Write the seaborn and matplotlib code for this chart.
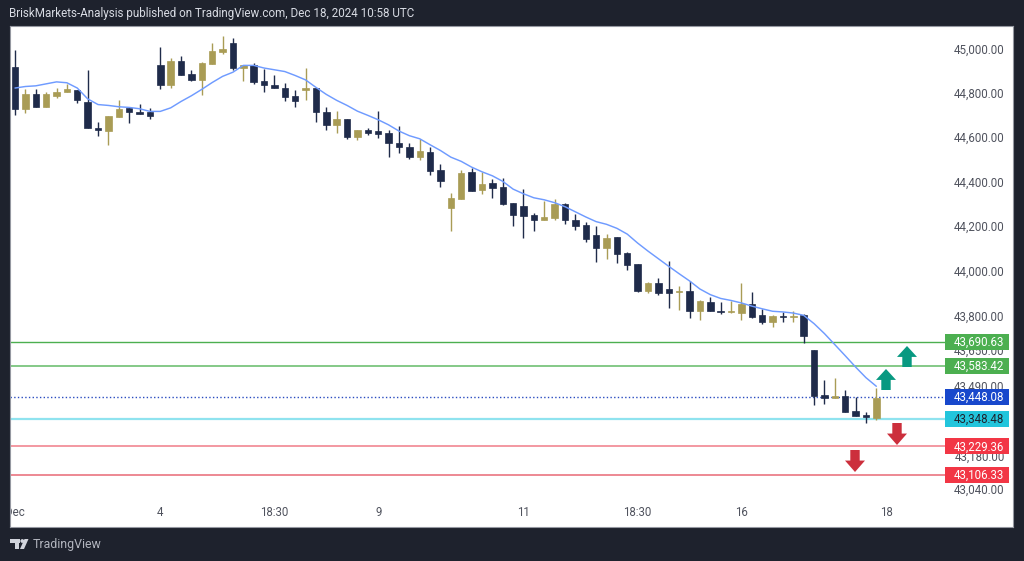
import matplotlib
matplotlib.use('Agg')
import matplotlib.pyplot as plt
from matplotlib.patches import Rectangle, Polygon, Circle
from matplotlib.ticker import NullLocator
from matplotlib.transforms import IdentityTransform, ScaledTranslation
import numpy as np
import pandas as pd
import seaborn as sns

highs = [45000,44823,44823,44813,44827,44848,44818,44909,44677,44700,44773,44741,44756,44738,45017,44967,44973,44909,44948,45033,45068,45056,44936,44941,44916,44889,44853,44818,
         44918,44827,44744,44726,44687,44638,44646,44726,44637,44655,44581,44599,44564,44483,44353,44459,44468,44449,44416,44423,44311,44371,44263,44320,44327,44311,44261,44223,
         44205,44172,44158,44091,44038,43958,43975,44050,43937,43961,43874,43888,43867,43872,43952,43912,43837,43811,43821,43829,43814,43656,43520,43529,43479,43445,43379,43487]
body_tops = [44924,44804,44804,44800,44813,44823,44818,44764,44650,44700,44736,44739,44721,44718,44936,44954,44954,44892,44941,44998,45008,45033,44936,44936,44862,44844,44830,44791,
             44827,44827,44720,44687,44687,44637,44638,44634,44623,44581,44563,44545,44540,44458,44332,44446,44449,44393,44398,44380,44311,44297,44257,44245,44306,44305,44235,44209,
             44166,44154,44158,44084,44038,43950,43950,43925,43917,43916,43870,43867,43829,43826,43860,43860,43808,43803,43805,43806,43808,43656,43457,43451,43453,43384,43368,43444]
body_bottoms = [44735,44735,44744,44744,44795,44809,44776,44647,44638,44634,44696,44718,44712,44700,44845,44841,44889,44866,44866,44938,44995,44920,44920,44857,44841,44827,44788,44770,
                44820,44718,44661,44661,44608,44608,44623,44620,44578,44564,44515,44516,44455,44408,44285,44329,44363,44368,44377,44306,44255,44251,44233,44233,44241,44233,44208,44146,
                44108,44108,44081,44033,43916,43916,43907,43909,43913,43827,43827,43827,43821,43821,43818,43800,43778,43778,43800,43800,43715,43453,43442,43442,43381,43363,43359,43356]
lows = [44708,44717,44744,44744,44783,44809,44761,44647,44611,44573,44696,44670,44709,44687,44823,44827,44889,44862,44797,44938,44986,44909,44862,44848,44810,44827,44770,44744,
        44774,44674,44638,44625,44598,44593,44616,44602,44516,44537,44507,44501,44437,44381,44185,44329,44363,44350,44332,44302,44206,44151,44184,44233,44233,44214,44188,44133,
        44045,44060,44042,44011,43913,43909,43900,43842,43830,43796,43789,43827,43814,43818,43789,43798,43771,43756,43778,43778,43685,43410,43415,43442,43381,43363,43333,43347]
sma_values = [44829,44836,44839,44848,44857,44853,44829,44780,44754,44750,44744,44741,44735,44723,44723,44739,44768,44794,44823,44854,44882,44901,44932,44932,44920,44912,44904,44886,
              44866,44832,44800,44773,44750,44724,44705,44685,44662,44634,44613,44599,44572,44546,44516,44497,44471,44450,44432,44407,44372,44351,44333,44324,44311,44293,44270,44247,
              44226,44214,44196,44170,44130,44094,44060,44026,43993,43961,43925,43900,43883,43874,43863,43849,43837,43826,43823,43818,43808,43771,43727,43678,43629,43579,43532,43494]
up_candles = [1,3,4,5,9,10,15,18,19,20,22,28,31,33,39,42,43,45,51,52,57,61,64,66,69,70,73,75,79,83]

price_ticks = [45000,44800,44600,44400,44200,44000,43800,43650,43490,43180,43040]
time_positions = [0,14,25,35,49,60,70,84]
time_labels = ['Dec','4','18:30','9','11','18:30','16','18']
levels = [43690.63,43583.42,43448.08,43348.48,43229.36,43106.33]
level_labels = ['43,690.63','43,583.42','43,448.08','43,348.48','43,229.36','43,106.33']

DARK = '#1e222d'
NAVY = '#1f2b4a'
GOLD = '#a99c55'
level_line = ['#4caf50','#6fc073','#2a4cc0','#8fe3ef','#f2909a','#ea7480']
level_box = ['#4caf50','#4caf50','#1848cc','#22c5dc','#f23645','#f23645']
level_text = ['white','white','white',DARK,'white','white']
level_style = ['-','-',':','-','-','-']
level_width = [1,1.2,1,1.6,1.3,1.2]

sns.set_theme(style='white')
plt.rcParams['font.family'] = ['Roboto','DejaVu Sans']

fig = plt.figure(figsize=(10.24,5.61),dpi=100,facecolor=DARK)
W,H = 1024,561
ax = fig.add_axes([10/W,(H-527)/H,1003/W,501/H],facecolor='white')
ax.set_yscale('log')
ax.set_ylim(42878,45111.8)
ax.set_xlim(-0.482,96.17)

df = pd.DataFrame({'i':np.arange(len(highs)),'high':highs,'top':body_tops,'bottom':body_bottoms,'low':lows,'sma':sma_values})
df['color'] = [GOLD if i in up_candles else NAVY for i in df['i']]

line_end = (945-15)/10.377
for p,c,ls,lw in zip(levels,level_line,level_style,level_width):
    ax.plot([ax.get_xlim()[0],line_end],[p,p],color=c,ls=ls,lw=lw,zorder=1)

ax.vlines(df['i'],df['low'],df['high'],colors=df['color'],lw=1,zorder=2)
ax.bar(df['i'],df['top']-df['bottom'],bottom=df['bottom'],width=0.62,color=df['color'],edgecolor=df['color'],lw=0.5,zorder=2.2)
sns.lineplot(data=df,x='i',y='sma',color='#6f9bff',lw=1.05,ax=ax,zorder=2.4,legend=False)

ax.set_xlabel('');ax.set_ylabel('')
ax.yaxis.tick_right()
ax.yaxis.set_minor_locator(NullLocator())
ax.set_yticks(price_ticks)
ax.set_yticklabels([f'{p:,.2f}' for p in price_ticks])
ax.tick_params(axis='y',which='both',length=0,pad=-6,labelsize=8.3,labelcolor='#50535e')
up_shift = ScaledTranslation(0,1.5/100,fig.dpi_scale_trans)
for t in ax.get_yticklabels():
    t.set_ha('right')
    t.set_transform(t.get_transform()+up_shift)
ax.set_xticks(time_positions)
ax.set_xticklabels(time_labels)
ax.tick_params(axis='x',length=0,pad=-15,labelsize=8.3,labelcolor='#50535e')
for t in ax.get_xticklabels():
    t.set_clip_box(ax.bbox)
    t.set_clip_on(True)
for s in ax.spines.values():
    s.set_color('#9598a1');s.set_linewidth(0.8)
fig.canvas.draw()

for p,txt,bc,tc in zip(levels,level_labels,level_box,level_text):
    yd = ax.transData.transform((0,p))[1]
    ax.add_patch(Rectangle((945,yd-8),64,16,transform=IdentityTransform(),facecolor=bc,edgecolor='none',zorder=5,clip_on=False))
    ax.text(978.7,yd-0.3,txt,transform=IdentityTransform(),color=tc,fontsize=8.3,ha='center',va='center',zorder=6,clip_on=False)

def arrow(l,t,r,b,color,up):
    cx=(l+r)/2; sw=4.7; hh=(b-t)*0.52
    if up:
        pts=[(cx,t),(r,t+hh),(cx+sw,t+hh),(cx+sw,b),(cx-sw,b),(cx-sw,t+hh),(l,t+hh)]
    else:
        pts=[(cx,b),(r,b-hh),(cx+sw,b-hh),(cx+sw,t),(cx-sw,t),(cx-sw,b-hh),(l,b-hh)]
    ax.add_patch(Polygon([(x,H-y) for x,y in pts],closed=True,transform=IdentityTransform(),facecolor=color,edgecolor='none',zorder=4))
arrow(897,346,917,367,'#089981',True)
arrow(876,369,896,390,'#089981',True)
arrow(887,423,907,445,'#cc2f3c',False)
arrow(845,450,865,472,'#cc2f3c',False)

fig.text(9/W,1-14/H,'BriskMarkets-Analysis published on TradingView.com, Dec 18, 2024 10:58 UTC',color='#d8dbe3',fontsize=8.36,ha='left',va='center')
fig.text(33/W,1-544.5/H,'TradingView',color='#b2b5be',fontsize=8.9,ha='left',va='center')
for pts in ([(10,539),(20,539),(20,543),(19,543),(19,549),(15,549),(15,543),(10,543)],[(24.5,539),(28.5,539),(24,549),(20,549)]):
    fig.add_artist(Polygon([(x/W,1-y/H) for x,y in pts],closed=True,transform=fig.transFigure,facecolor='#d1d4dc',edgecolor='none'))
fig.add_artist(Circle((22.3,H-541),1.9,transform=IdentityTransform(),facecolor='#d1d4dc',edgecolor='none'))

fig.savefig('out.png',dpi=100,facecolor=DARK)
